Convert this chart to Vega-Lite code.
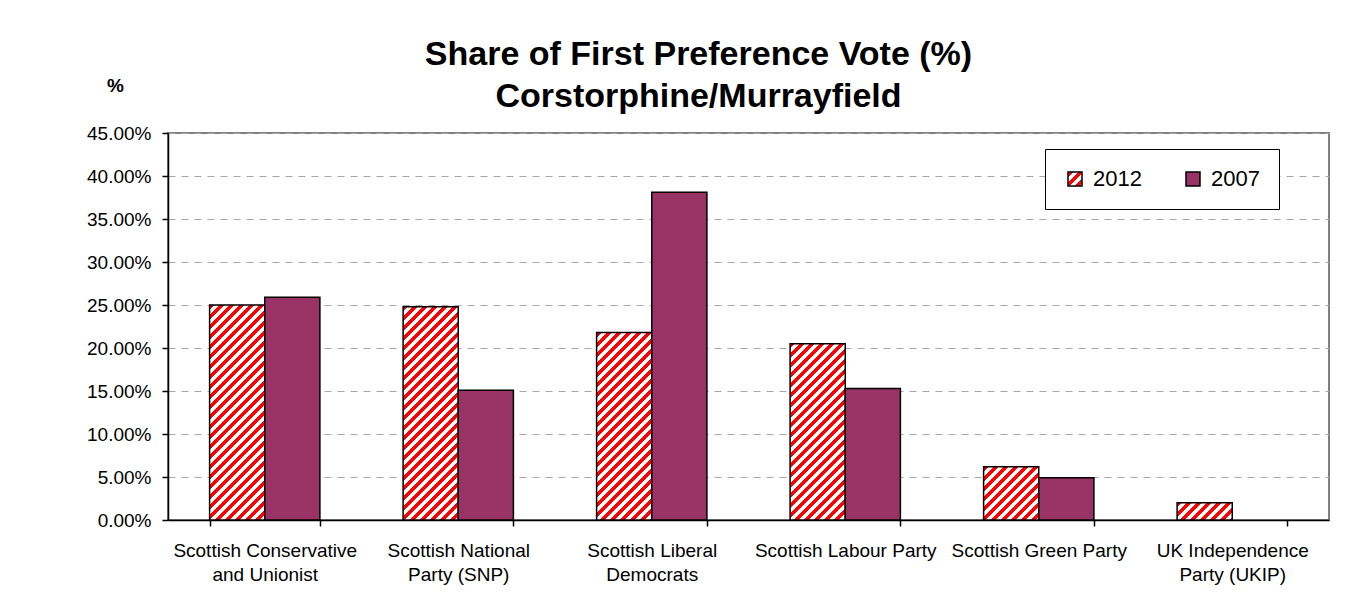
{
  "$schema": "https://vega.github.io/schema/vega-lite/v6.json",
  "width": 1161,
  "height": 387,
  "autosize": {"type": "none"},
  "padding": {"left": 168, "top": 133, "right": 28, "bottom": 86},
  "background": "white",
  "params": [
    {"name": "stripes", "value": [
      {"offset":0,"color":"#ff0000"},{"offset":0.0125,"color":"#ff0000"},{"offset":0.0125,"color":"#ffffff"},{"offset":0.025,"color":"#ffffff"},
      {"offset":0.025,"color":"#ff0000"},{"offset":0.0375,"color":"#ff0000"},{"offset":0.0375,"color":"#ffffff"},{"offset":0.05,"color":"#ffffff"},
      {"offset":0.05,"color":"#ff0000"},{"offset":0.0625,"color":"#ff0000"},{"offset":0.0625,"color":"#ffffff"},{"offset":0.075,"color":"#ffffff"},
      {"offset":0.075,"color":"#ff0000"},{"offset":0.0875,"color":"#ff0000"},{"offset":0.0875,"color":"#ffffff"},{"offset":0.1,"color":"#ffffff"},
      {"offset":0.1,"color":"#ff0000"},{"offset":0.1125,"color":"#ff0000"},{"offset":0.1125,"color":"#ffffff"},{"offset":0.125,"color":"#ffffff"},
      {"offset":0.125,"color":"#ff0000"},{"offset":0.1375,"color":"#ff0000"},{"offset":0.1375,"color":"#ffffff"},{"offset":0.15,"color":"#ffffff"},
      {"offset":0.15,"color":"#ff0000"},{"offset":0.1625,"color":"#ff0000"},{"offset":0.1625,"color":"#ffffff"},{"offset":0.175,"color":"#ffffff"},
      {"offset":0.175,"color":"#ff0000"},{"offset":0.1875,"color":"#ff0000"},{"offset":0.1875,"color":"#ffffff"},{"offset":0.2,"color":"#ffffff"},
      {"offset":0.2,"color":"#ff0000"},{"offset":0.2125,"color":"#ff0000"},{"offset":0.2125,"color":"#ffffff"},{"offset":0.225,"color":"#ffffff"},
      {"offset":0.225,"color":"#ff0000"},{"offset":0.2375,"color":"#ff0000"},{"offset":0.2375,"color":"#ffffff"},{"offset":0.25,"color":"#ffffff"},
      {"offset":0.25,"color":"#ff0000"},{"offset":0.2625,"color":"#ff0000"},{"offset":0.2625,"color":"#ffffff"},{"offset":0.275,"color":"#ffffff"},
      {"offset":0.275,"color":"#ff0000"},{"offset":0.2875,"color":"#ff0000"},{"offset":0.2875,"color":"#ffffff"},{"offset":0.3,"color":"#ffffff"},
      {"offset":0.3,"color":"#ff0000"},{"offset":0.3125,"color":"#ff0000"},{"offset":0.3125,"color":"#ffffff"},{"offset":0.325,"color":"#ffffff"},
      {"offset":0.325,"color":"#ff0000"},{"offset":0.3375,"color":"#ff0000"},{"offset":0.3375,"color":"#ffffff"},{"offset":0.35,"color":"#ffffff"},
      {"offset":0.35,"color":"#ff0000"},{"offset":0.3625,"color":"#ff0000"},{"offset":0.3625,"color":"#ffffff"},{"offset":0.375,"color":"#ffffff"},
      {"offset":0.375,"color":"#ff0000"},{"offset":0.3875,"color":"#ff0000"},{"offset":0.3875,"color":"#ffffff"},{"offset":0.4,"color":"#ffffff"},
      {"offset":0.4,"color":"#ff0000"},{"offset":0.4125,"color":"#ff0000"},{"offset":0.4125,"color":"#ffffff"},{"offset":0.425,"color":"#ffffff"},
      {"offset":0.425,"color":"#ff0000"},{"offset":0.4375,"color":"#ff0000"},{"offset":0.4375,"color":"#ffffff"},{"offset":0.45,"color":"#ffffff"},
      {"offset":0.45,"color":"#ff0000"},{"offset":0.4625,"color":"#ff0000"},{"offset":0.4625,"color":"#ffffff"},{"offset":0.475,"color":"#ffffff"},
      {"offset":0.475,"color":"#ff0000"},{"offset":0.4875,"color":"#ff0000"},{"offset":0.4875,"color":"#ffffff"},{"offset":0.5,"color":"#ffffff"},
      {"offset":0.5,"color":"#ff0000"},{"offset":0.5125,"color":"#ff0000"},{"offset":0.5125,"color":"#ffffff"},{"offset":0.525,"color":"#ffffff"},
      {"offset":0.525,"color":"#ff0000"},{"offset":0.5375,"color":"#ff0000"},{"offset":0.5375,"color":"#ffffff"},{"offset":0.55,"color":"#ffffff"},
      {"offset":0.55,"color":"#ff0000"},{"offset":0.5625,"color":"#ff0000"},{"offset":0.5625,"color":"#ffffff"},{"offset":0.575,"color":"#ffffff"},
      {"offset":0.575,"color":"#ff0000"},{"offset":0.5875,"color":"#ff0000"},{"offset":0.5875,"color":"#ffffff"},{"offset":0.6,"color":"#ffffff"},
      {"offset":0.6,"color":"#ff0000"},{"offset":0.6125,"color":"#ff0000"},{"offset":0.6125,"color":"#ffffff"},{"offset":0.625,"color":"#ffffff"},
      {"offset":0.625,"color":"#ff0000"},{"offset":0.6375,"color":"#ff0000"},{"offset":0.6375,"color":"#ffffff"},{"offset":0.65,"color":"#ffffff"},
      {"offset":0.65,"color":"#ff0000"},{"offset":0.6625,"color":"#ff0000"},{"offset":0.6625,"color":"#ffffff"},{"offset":0.675,"color":"#ffffff"},
      {"offset":0.675,"color":"#ff0000"},{"offset":0.6875,"color":"#ff0000"},{"offset":0.6875,"color":"#ffffff"},{"offset":0.7,"color":"#ffffff"},
      {"offset":0.7,"color":"#ff0000"},{"offset":0.7125,"color":"#ff0000"},{"offset":0.7125,"color":"#ffffff"},{"offset":0.725,"color":"#ffffff"},
      {"offset":0.725,"color":"#ff0000"},{"offset":0.7375,"color":"#ff0000"},{"offset":0.7375,"color":"#ffffff"},{"offset":0.75,"color":"#ffffff"},
      {"offset":0.75,"color":"#ff0000"},{"offset":0.7625,"color":"#ff0000"},{"offset":0.7625,"color":"#ffffff"},{"offset":0.775,"color":"#ffffff"},
      {"offset":0.775,"color":"#ff0000"},{"offset":0.7875,"color":"#ff0000"},{"offset":0.7875,"color":"#ffffff"},{"offset":0.8,"color":"#ffffff"},
      {"offset":0.8,"color":"#ff0000"},{"offset":0.8125,"color":"#ff0000"},{"offset":0.8125,"color":"#ffffff"},{"offset":0.825,"color":"#ffffff"},
      {"offset":0.825,"color":"#ff0000"},{"offset":0.8375,"color":"#ff0000"},{"offset":0.8375,"color":"#ffffff"},{"offset":0.85,"color":"#ffffff"},
      {"offset":0.85,"color":"#ff0000"},{"offset":0.8625,"color":"#ff0000"},{"offset":0.8625,"color":"#ffffff"},{"offset":0.875,"color":"#ffffff"},
      {"offset":0.875,"color":"#ff0000"},{"offset":0.8875,"color":"#ff0000"},{"offset":0.8875,"color":"#ffffff"},{"offset":0.9,"color":"#ffffff"},
      {"offset":0.9,"color":"#ff0000"},{"offset":0.9125,"color":"#ff0000"},{"offset":0.9125,"color":"#ffffff"},{"offset":0.925,"color":"#ffffff"},
      {"offset":0.925,"color":"#ff0000"},{"offset":0.9375,"color":"#ff0000"},{"offset":0.9375,"color":"#ffffff"},{"offset":0.95,"color":"#ffffff"},
      {"offset":0.95,"color":"#ff0000"},{"offset":0.9625,"color":"#ff0000"},{"offset":0.9625,"color":"#ffffff"},{"offset":0.975,"color":"#ffffff"},
      {"offset":0.975,"color":"#ff0000"},{"offset":0.9875,"color":"#ff0000"},{"offset":0.9875,"color":"#ffffff"},{"offset":1,"color":"#ffffff"}
    ]}
  ],
  "title": {
    "text": ["Share of First Preference Vote (%)", "Corstorphine/Murrayfield"],
    "anchor": "middle",
    "frame": "group",
    "dx": -50,
    "offset": -38,
    "font": "Liberation Sans",
    "fontSize": 34,
    "fontWeight": "bold",
    "lineHeight": 42,
    "color": "black"
  },
  "data": {"values": [
    {"party": "Scottish Conservative and Unionist", "year": "2012", "value": 0.250},
    {"party": "Scottish Conservative and Unionist", "year": "2007", "value": 0.259},
    {"party": "Scottish National Party (SNP)", "year": "2012", "value": 0.248},
    {"party": "Scottish National Party (SNP)", "year": "2007", "value": 0.151},
    {"party": "Scottish Liberal Democrats", "year": "2012", "value": 0.218},
    {"party": "Scottish Liberal Democrats", "year": "2007", "value": 0.381},
    {"party": "Scottish Labour Party", "year": "2012", "value": 0.205},
    {"party": "Scottish Labour Party", "year": "2007", "value": 0.153},
    {"party": "Scottish Green Party", "year": "2012", "value": 0.062},
    {"party": "Scottish Green Party", "year": "2007", "value": 0.049},
    {"party": "UK Independence Party (UKIP)", "year": "2012", "value": 0.020}
  ]},
  "mark": {"type": "bar", "stroke": "black", "strokeWidth": 1.5},
  "encoding": {
    "x": {
      "field": "party",
      "type": "nominal",
      "sort": null,
      "scale": {"paddingInner": 0.43, "paddingOuter": 0.215},
      "axis": {
        "title": null,
        "labelAngle": 0,
        "tickBand": "extent",
        "labelExpr": "datum.label == 'Scottish Conservative and Unionist' ? ['Scottish Conservative', 'and Unionist'] : datum.label == 'Scottish National Party (SNP)' ? ['Scottish National', 'Party (SNP)'] : datum.label == 'Scottish Liberal Democrats' ? ['Scottish Liberal', 'Democrats'] : datum.label == 'UK Independence Party (UKIP)' ? ['UK Independence', 'Party (UKIP)'] : datum.label",
        "labelFont": "Liberation Sans",
        "labelFontSize": 19,
        "labelColor": "black",
        "labelLineHeight": 24,
        "labelPadding": 15,
        "labelLimit": 400,
        "tickSize": 6,
        "tickColor": "black",
        "tickWidth": 1.5,
        "domainColor": "black",
        "domainWidth": 1.5,
        "grid": false
      }
    },
    "xOffset": {
      "field": "year",
      "type": "nominal",
      "scale": {"domain": ["2012", "2007"], "paddingInner": 0, "paddingOuter": 0}
    },
    "y": {
      "field": "value",
      "type": "quantitative",
      "scale": {"domain": [0, 0.45], "nice": false},
      "axis": {
        "title": "%",
        "titleAngle": 0,
        "titleX": -53,
        "titleY": -48,
        "titleAlign": "center",
        "titleBaseline": "middle",
        "titleFont": "Liberation Sans",
        "titleFontSize": 19,
        "titleFontWeight": "bold",
        "titleColor": "black",
        "values": [0, 0.05, 0.1, 0.15, 0.2, 0.25, 0.3, 0.35, 0.4, 0.45],
        "format": ".2%",
        "labelFont": "Liberation Sans",
        "labelFontSize": 19,
        "labelColor": "black",
        "labelPadding": 11,
        "tickSize": 6,
        "tickColor": "black",
        "tickWidth": 1.5,
        "domainColor": "black",
        "domainWidth": 1.5,
        "grid": true,
        "gridColor": "#a8a8a8",
        "gridDash": [7, 6],
        "gridWidth": 1.2
      }
    },
    "fill": {
      "field": "year",
      "type": "nominal",
      "scale": {
        "domain": ["2012", "2007"],
        "range": [{"expr": "{gradient: 'linear', x1: 0, y1: 0, x2: 14.29, y2: 14.29, stops: stripes}"}, "#993366"]
      },
      "condition": {
        "test": "datum.year === '2012'",
        "value": {"expr": "{gradient: 'linear', x1: 0, y1: 0, x2: bandwidth('xOffset') * 400 / (pow(bandwidth('xOffset'), 2) + pow(scale('y', 0) - scale('y', datum.value), 2)), y2: (scale('y', 0) - scale('y', datum.value)) * 400 / (pow(bandwidth('xOffset'), 2) + pow(scale('y', 0) - scale('y', datum.value), 2)), stops: stripes}"}
      },
      "legend": {
        "title": null,
        "orient": "none",
        "legendX": 877,
        "legendY": 16,
        "direction": "horizontal",
        "symbolType": "square",
        "symbolSize": 196,
        "symbolStrokeColor": "black",
        "symbolStrokeWidth": 1.5,
        "labelFont": "Liberation Sans",
        "labelFontSize": 22,
        "labelColor": "black",
        "labelOffset": 7,
        "columnPadding": 40,
        "padding": 19,
        "strokeColor": "black",
        "fillColor": "white"
      }
    }
  },
  "config": {
    "view": {"stroke": "#808080", "strokeWidth": 2},
    "font": "Liberation Sans"
  }
}
